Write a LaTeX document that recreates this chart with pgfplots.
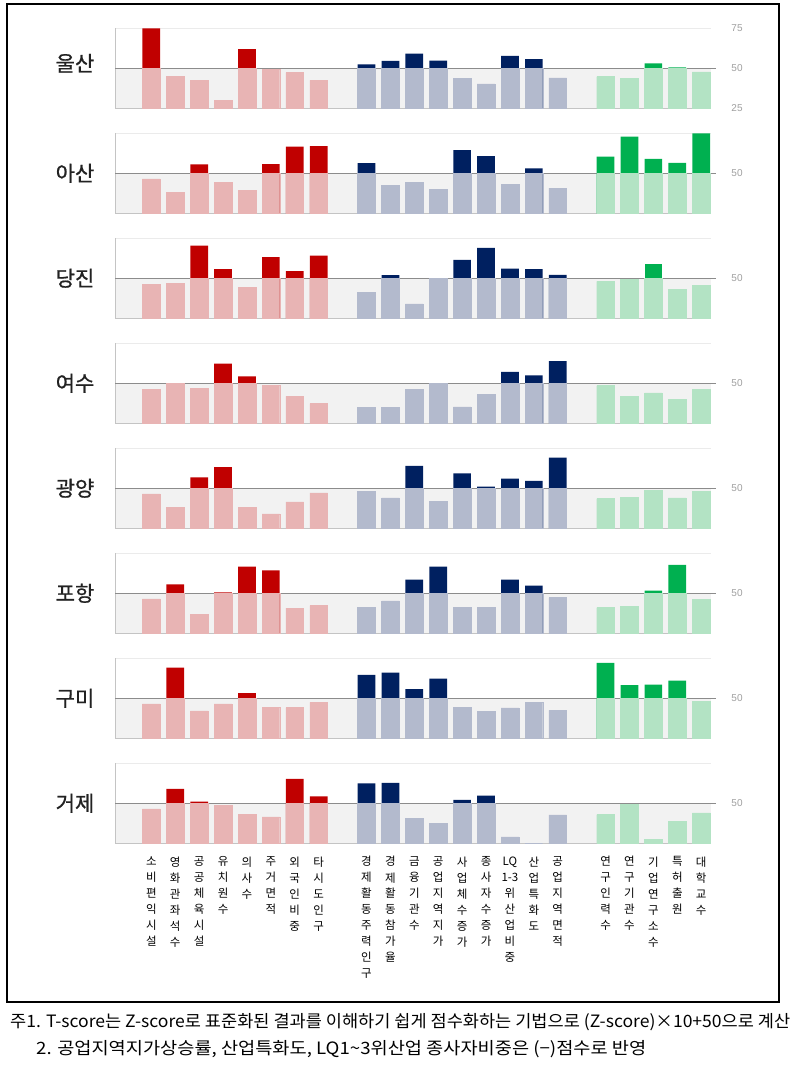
\documentclass[border=0pt]{standalone}
\usepackage{pgfplots}
\pgfplotsset{compat=1.18}
\usepackage{pgfplotstable}
\usepackage{graphicx}
\usepackage{fontspec}
\setmainfont{Liberation Sans}
\newfontfamily\kr{Noto Sans CJK KR}
\newfontfamily\krb[FakeBold=0.8]{Noto Sans CJK KR}

\definecolor{dred}{HTML}{C00000}
\definecolor{lred}{HTML}{E8B4B4}
\definecolor{dnavy}{HTML}{002060}
\definecolor{lnavy}{HTML}{B3BACD}
\definecolor{dgreen}{HTML}{00B050}
\definecolor{lgreen}{HTML}{B3E3C4}
\definecolor{band}{HTML}{F2F2F2}
\definecolor{topgrid}{HTML}{EBEBEB}
\definecolor{botgrid}{HTML}{C4C4C4}
\definecolor{midgrid}{HTML}{8C8C8C}
\definecolor{tickgray}{HTML}{A0A0A0}
\definecolor{citytext}{HTML}{222222}

% T-scores: columns = cities, rows = indicators (x position)
\pgfplotstableread{
x  ul   as   dj   ys   gy   ph   gm   gj
0  75   46.5 46.3 46.3 46.5 46.5 46.5 46.5
1  45   38.1 46.7 49.8 37.9 55.6 69.2 59
2  42.5 55.6 70.4 46.7 56.9 36.9 42.1 51
3  30   44.2 55.8 62.3 63.3 50.6 46.5 48.5
4  62   39.4 44.2 54.4 37.9 66.7 53.3 43.3
5  49.5 55.8 63.3 48.8 34   64.4 44.2 41.5
6  47.3 66.7 54.4 41.9 41.5 40.8 44.2 65.2
7  42.5 66.9 64.2 37.3 47.1 42.3 47.5 54.4
9  52.5 56.3 41   35   48.3 41.3 64.6 62.5
10 54.6 42.3 51.9 35   44   45.2 66   62.7
11 59.2 44.2 34   46   64   58.5 55.8 40.6
12 54.8 40   49.8 49.8 41.7 66.7 62.3 37.5
13 43.8 64.4 61.5 35.2 59.4 41.3 44.4 52.1
14 40.2 60.8 69   43.1 51   41   41.9 54.8
15 57.7 43.3 56   57.1 56   58.5 44   29
16 55.8 53.1 55.8 55   54.6 54.8 47.5 25
17 44   40.8 52.1 63.8 69.2 47.3 42.5 42.7
19 44.8 60.4 48.1 48.5 43.5 41   72.1 42.9
20 43.8 72.9 49.2 41.7 44.2 41.9 58.3 49.2
21 53.1 59   58.8 44   48.5 51.7 58.5 27.5
22 50.6 56.5 43.1 40   44   67.7 61   38.8
23 47.7 75   45.6 46   48.1 46   48.3 44
}\data

\pgfplotsset{
  panel/.style={anchor=south west, width=596pt, height=80pt, scale only axis,
    xmin=-1.52, xmax=23.41, ymin=25, ymax=75,
    axis line style={draw=none}, major tick length=0pt,
    xtick=\empty, ytick={50}, yticklabels={50}, yticklabel pos=right,
    yticklabel style={anchor=center, xshift=26pt, font=\fontsize{10}{12}\selectfont, text=tickgray},
    clip mode=individual},
  dbar/.style={ybar, bar width=0.74, bar shift=0pt, draw=none, restrict y to domain=50.01:100},
  lbar/.style={ybar, bar width=0.74, bar shift=0pt, line width=0.4pt},
}

\newcommand\panel[5]{%
\begin{axis}[panel, at={(115pt,#2pt)}, #5]
  \fill[band] (axis cs:-1.52,25) rectangle (axis cs:23.41,50);
  \draw[color=topgrid, line width=0.6pt] (axis cs:-1.52,75) -- (axis cs:23.41,75);
  \draw[color=botgrid, line width=0.8pt] (axis cs:-1.52,25) -- (axis cs:23.41,25);
  \draw[color=botgrid, line width=0.8pt] (axis cs:-1.52,25) -- (axis cs:-1.52,75);
  \draw[color=midgrid, line width=0.9pt] (axis cs:-1.52,50) -- (axis cs:23.6,50);
  \addplot[dbar, fill=dred,   restrict x to domain=-1:7.5]   table[x=x,y=#1]{\data};
  \addplot[dbar, fill=dnavy,  restrict x to domain=8.5:17.5] table[x=x,y=#1]{\data};
  \addplot[dbar, fill=dgreen, restrict x to domain=18.5:24]  table[x=x,y=#1]{\data};
  \addplot[lbar, fill=lred,   draw=lred,   restrict x to domain=-1:7.5]   table[x=x,y expr={min(\thisrow{#1},50)}]{\data};
  \addplot[lbar, fill=lnavy,  draw=lnavy,  restrict x to domain=8.5:17.5] table[x=x,y expr={min(\thisrow{#1},50)}]{\data};
  \addplot[lbar, fill=lgreen, draw=lgreen, restrict x to domain=18.5:24]  table[x=x,y expr={min(\thisrow{#1},50)}]{\data};
\end{axis}
\node[font=\krb\fontsize{21}{24}\selectfont, text=citytext] at (75pt,#3pt) {#4};
}

\begin{document}
\begin{tikzpicture}
\path[use as bounding box] (0pt,0pt) rectangle (802pt,1074pt);
\fill[white] (0pt,0pt) rectangle (802pt,1074pt);
\draw[line width=1.3pt] (7pt,1070pt) rectangle (779pt,72pt);

\panel{ul}{965.7}{1010.7}{울산}{ytick={25,50,75}, yticklabels={25,50,75}}
\panel{as}{860.7}{900.7}{아산}{}
\panel{dj}{755.7}{795.7}{당진}{}
\panel{ys}{650.7}{690.7}{여수}{}
\panel{gy}{545.7}{585.7}{광양}{}
\panel{ph}{440.7}{480.7}{포항}{}
\panel{gm}{335.7}{375.7}{구미}{}
\panel{gj}{230.7}{270.7}{거제}{xtick={0,1,2,3,4,5,6,7,9,10,11,12,13,14,15,16,17,19,20,21,22,23},
  xticklabels={{소\\비\\편\\익\\시\\설},{영\\화\\관\\좌\\석\\수},{공\\공\\체\\육\\시\\설},{유\\치\\원\\수},{의\\사\\수},{주\\거\\면\\적},{외\\국\\인\\비\\중},{타\\시\\도\\인\\구},
  {경\\제\\활\\동\\주\\력\\인\\구},{경\\제\\활\\동\\참\\가\\율},{금\\융\\기\\관\\수},{공\\업\\지\\역\\지\\가},{사\\업\\체\\수\\증\\가},{종\\사\\자\\수\\증\\가},{LQ\\1-3\\위\\산\\업\\비\\중},{산\\업\\특\\화\\도},{공\\업\\지\\역\\면\\적},
  {연\\구\\인\\력\\수},{연\\구\\기\\관\\수},{기\\업\\연\\구\\소\\수},{특\\허\\출\\원},{대\\학\\교\\수}},
  xticklabel style={font=\kr\fontsize{11.5}{16}\selectfont, align=center, anchor=north, inner sep=0pt, yshift=-13pt, text=black}}

\node[anchor=west, inner sep=0pt] at (10pt,52pt) {\resizebox{780pt}{\height}{\kr\fontsize{17}{20}\selectfont 주1. T-score는 Z-score로 표준화된 결과를 이해하기 쉽게 점수화하는 기법으로 (Z-score)×10+50으로 계산}};
\node[anchor=west, inner sep=0pt] at (36pt,25pt) {\resizebox{610pt}{\height}{\kr\fontsize{17}{20}\selectfont 2. 공업지역지가상승률, 산업특화도, LQ1\textasciitilde 3위산업 종사자비중은 (−)점수로 반영}};
\end{tikzpicture}
\end{document}
